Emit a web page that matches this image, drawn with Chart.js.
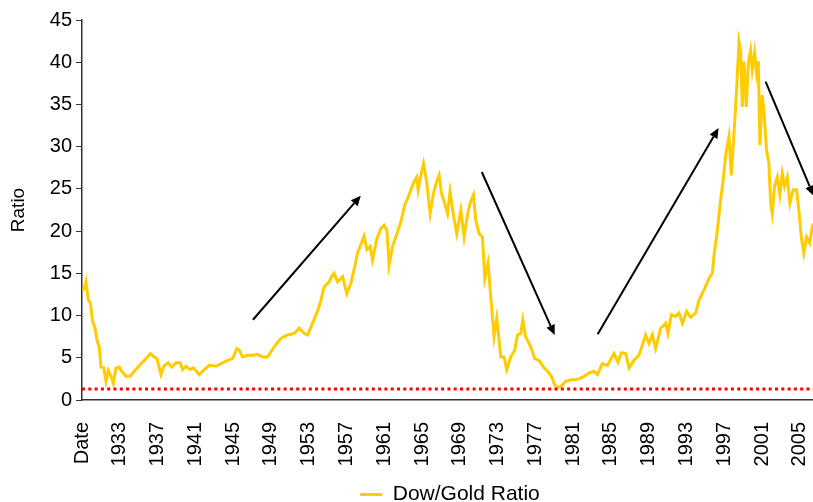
<!DOCTYPE html>
<html>
<head>
<meta charset="utf-8">
<script src="https://cdn.jsdelivr.net/npm/chart.js@4.4.1/dist/chart.umd.min.js"></script>
<style>
  html, body { margin: 0; padding: 0; background: #fff; }
  #frame { width: 813px; height: 502px; overflow: hidden; position: relative; }
  #wrap { width: 900px; height: 515px; position: absolute; left: 0; top: 0; }
</style>
</head>
<body>
<div id="frame">
  <div id="wrap"><canvas id="chartDowGold"></canvas></div>
</div>
<script>
// Dow/Gold ratio (year, ratio)
const years = [
  1929.05, 1929.24, 1929.42, 1929.67, 1929.88, 1930.13, 1930.38, 1930.59, 1930.83, 1931.01,
  1931.30, 1931.54, 1931.78, 1932.07, 1932.31, 1932.60, 1932.95, 1933.20, 1933.66, 1934.11,
  1934.53, 1935.24, 1935.77, 1936.23, 1936.65, 1936.94, 1937.36, 1937.71, 1938.13, 1938.49,
  1938.95, 1939.40, 1939.66, 1940.01, 1940.46, 1940.82, 1941.41, 1941.94, 1942.47, 1943.18,
  1943.71, 1944.42, 1944.95, 1945.40, 1945.65, 1946.01, 1946.53, 1947.06, 1947.59, 1948.12,
  1948.65, 1949.35, 1950.06, 1950.77, 1951.47, 1952.00, 1952.52, 1952.88, 1953.41, 1953.94,
  1954.29, 1954.64, 1955.17, 1955.53, 1955.70, 1956.06, 1956.59, 1957.04, 1957.46, 1957.88,
  1958.17, 1958.70, 1958.87, 1959.16, 1959.51, 1959.76, 1960.22, 1960.64, 1960.99, 1961.28,
  1961.52, 1961.88, 1962.23, 1962.76, 1963.18, 1963.63, 1964.10, 1964.45, 1964.59, 1964.87,
  1965.16, 1965.51, 1965.86, 1966.22, 1966.57, 1966.81, 1967.06, 1967.41, 1967.70, 1967.97,
  1968.33, 1968.68, 1969.11, 1969.46, 1969.81, 1970.09, 1970.45, 1970.69, 1971.04, 1971.40,
  1971.65, 1971.99, 1972.28, 1972.63, 1972.92, 1973.34, 1973.69, 1973.97, 1974.40, 1974.82,
  1975.11, 1975.46, 1975.67, 1975.98, 1976.51, 1976.94, 1977.39, 1977.86, 1978.28, 1978.70,
  1979.05, 1979.34, 1979.69, 1980.22, 1980.75, 1981.28, 1981.80, 1982.15, 1982.68, 1983.21,
  1983.57, 1984.10, 1984.63, 1985.33, 1985.75, 1986.11, 1986.57, 1986.92, 1987.44, 1987.97,
  1988.33, 1988.68, 1989.03, 1989.39, 1989.74, 1990.27, 1990.80, 1991.04, 1991.40, 1991.86,
  1992.21, 1992.57, 1993.02, 1993.44, 1993.97, 1994.32, 1994.85, 1995.38, 1995.74, 1995.91,
  1996.27, 1996.62, 1996.90, 1997.15, 1997.50, 1997.75, 1998.10, 1998.31, 1998.56, 1998.73,
  1998.91, 1999.08, 1999.34, 1999.55, 1999.79, 1999.97, 2000.22, 2000.43, 2000.61, 2000.78,
  2001.03, 2001.20, 2001.48, 2001.73, 2001.91, 2002.09, 2002.33, 2002.62, 2002.89, 2003.15,
  2003.39, 2003.68, 2003.95, 2004.31, 2004.66, 2004.90, 2005.16, 2005.43, 2005.72, 2006.06,
  2006.32, 2006.46
];
const ratio = [
  13.0, 13.2, 14.0, 11.8, 11.5, 9.3, 8.5, 7.1, 6.3, 3.9,
  3.8, 2.2, 3.5, 2.8, 2.0, 3.8, 3.9, 3.4, 2.8, 2.8,
  3.4, 4.3, 4.9, 5.5, 5.1, 4.9, 3.0, 4.1, 4.4, 3.9,
  4.4, 4.4, 3.6, 4.0, 3.6, 3.8, 3.0, 3.6, 4.1, 4.0,
  4.3, 4.7, 4.9, 6.1, 5.9, 5.1, 5.3, 5.3, 5.4, 5.1,
  5.1, 6.3, 7.3, 7.7, 7.9, 8.5, 7.9, 7.7, 9.1, 10.5,
  11.8, 13.4, 14.0, 14.8, 15.0, 14.0, 14.6, 12.6, 13.8, 15.8,
  17.4, 18.9, 19.4, 17.8, 18.2, 16.6, 19.1, 20.3, 20.7, 20.1,
  16.0, 18.2, 19.3, 21.1, 23.1, 24.3, 25.7, 26.4, 24.9, 26.6,
  28.0, 25.7, 22.1, 24.5, 25.9, 26.6, 24.5, 23.3, 22.1, 24.7,
  21.9, 19.7, 22.5, 19.3, 21.9, 23.3, 24.3, 21.3, 19.7, 19.3,
  14.4, 16.2, 12.2, 7.5, 9.7, 5.1, 5.1, 3.6, 5.1, 5.9,
  7.7, 7.9, 9.5, 7.5, 6.3, 4.9, 4.7, 3.9, 3.4, 2.8,
  1.8, 1.5, 1.6, 2.2, 2.4, 2.4, 2.6, 2.8, 3.2, 3.4,
  3.0, 4.3, 4.1, 5.5, 4.5, 5.6, 5.5, 3.8, 4.7, 5.3,
  6.5, 7.7, 6.7, 7.7, 6.1, 8.5, 9.1, 7.9, 10.1, 9.9,
  10.3, 9.1, 10.5, 9.8, 10.3, 11.8, 13.0, 14.4, 15.0, 17.0,
  20.1, 23.7, 26.1, 29.0, 31.2, 26.6, 32.8, 36.7, 42.4, 41.4,
  34.7, 40.1, 34.7, 39.9, 41.4, 39.1, 41.1, 38.7, 40.1, 30.2,
  36.1, 34.3, 29.6, 28.0, 23.5, 22.1, 25.3, 26.4, 24.3, 26.8,
  25.3, 26.4, 23.3, 24.9, 24.9, 22.5, 19.3, 17.4, 19.3, 18.6,
  20.5, 20.9
];

// red dotted floor line
const floorYears = [1929, 2006.4];
const floorValue = [1.3, 1.3];

// x axis ticks (first one is the "Date" header)
const tickYears = [1929, 1933, 1937, 1941, 1945, 1949, 1953, 1957, 1961, 1965,
  1969, 1973, 1977, 1981, 1985, 1989, 1993, 1997, 2001, 2005];
const tickLabels = ["Date", "1933", "1937", "1941", "1945", "1949", "1953", "1957", "1961", "1965",
  "1969", "1973", "1977", "1981", "1985", "1989", "1993", "1997", "2001", "2005"];

// trend arrows: [fromYear, fromRatio, toYear, toRatio]
const arrows = [
  [1947.10, 9.5, 1958.52, 24.2],
  [1971.33, 27.0, 1979.05, 7.7],
  [1983.60, 7.8, 1996.40, 32.2],
  [2001.38, 37.7, 2006.46, 24.2],
];

Chart.defaults.font.family = 'Arial, "Liberation Sans", sans-serif';
Chart.defaults.font.size = 20;
Chart.defaults.color = "#000";

const arrowPlugin = {
  id: "arrows",
  afterDatasetsDraw(chart) {
    const { ctx, scales } = chart;
    ctx.save();
    ctx.strokeStyle = "#000";
    ctx.fillStyle = "#000";
    ctx.lineWidth = 2;
    arrows.forEach((a) => {
      const x1 = scales.x.getPixelForValue(a[0]);
      const y1 = scales.y.getPixelForValue(a[1]);
      const x2 = scales.x.getPixelForValue(a[2]);
      const y2 = scales.y.getPixelForValue(a[3]);
      const ang = Math.atan2(y2 - y1, x2 - x1);
      const len = 10, half = 4.5;
      const bx = x2 - Math.cos(ang) * len;
      const by = y2 - Math.sin(ang) * len;
      ctx.beginPath();
      ctx.moveTo(x1, y1);
      ctx.lineTo(bx, by);
      ctx.stroke();
      ctx.beginPath();
      ctx.moveTo(x2, y2);
      ctx.lineTo(bx - Math.sin(ang) * half, by + Math.cos(ang) * half);
      ctx.lineTo(bx + Math.sin(ang) * half, by - Math.cos(ang) * half);
      ctx.closePath();
      ctx.fill();
    });
    ctx.restore();
  },
};

new Chart(document.getElementById("chartDowGold"), {
  type: "line",
  data: {
    datasets: [
      {
        label: "floor",
        data: floorYears.map((x, i) => ({ x, y: floorValue[i] })),
        borderColor: "#ff0000",
        borderWidth: 3,
        borderDash: [3, 3.3],
        pointRadius: 0,
        order: 0,
      },
      {
        label: "Dow/Gold Ratio",
        data: years.map((x, i) => ({ x, y: ratio[i] })),
        borderColor: "#ffcc00",
        backgroundColor: "#ffcc00",
        borderWidth: 3,
        pointRadius: 0,
        tension: 0,
        order: 1,
      },
    ],
  },
  options: {
    responsive: true,
    maintainAspectRatio: false,
    animation: false,
    layout: { padding: { top: 20, right: 0, left: 0, bottom: 0 } },
    scales: {
      x: {
        type: "linear",
        min: 1929,
        max: 2006.4,
        afterBuildTicks: (scale) => {
          scale.ticks = tickYears.map((v) => ({ value: v }));
        },
        afterFit: (scale) => {
          scale.height = scale.chart.height - scale.chart.legend.height - 400;
        },
        ticks: {
          minRotation: 90,
          maxRotation: 90,
          autoSkip: false,
          padding: 14,
          callback: (value, i) => tickLabels[i],
        },
        grid: { display: false },
        border: { display: true, color: "#333", width: 1.5 },
      },
      y: {
        min: 0,
        max: 45,
        afterFit: (scale) => {
          scale.width = 82;
        },
        ticks: { stepSize: 5, padding: 4 },
        grid: { drawOnChartArea: false, drawTicks: true, tickLength: 6, color: "#333" },
        border: { display: true, color: "#333", width: 1.5 },
        title: { display: true, text: "Ratio", font: { size: 19 }, padding: { top: 7, bottom: 0 } },
      },
      // empty strip on the right, cut off by the frame
      yRight: {
        position: "right",
        min: 0,
        max: 1,
        afterFit: (scale) => {
          scale.width = 87;
        },
        ticks: { display: false },
        grid: { display: false },
        border: { display: false },
      },
    },
    plugins: {
      legend: {
        position: "bottom",
        labels: {
          usePointStyle: true,
          pointStyle: "line",
          pointStyleWidth: 22,
          padding: 6,
          font: { size: 21 },
          filter: (item) => item.text !== "floor",
        },
      },
      tooltip: { enabled: false },
    },
  },
  plugins: [arrowPlugin],
});
</script>
</body>
</html>
